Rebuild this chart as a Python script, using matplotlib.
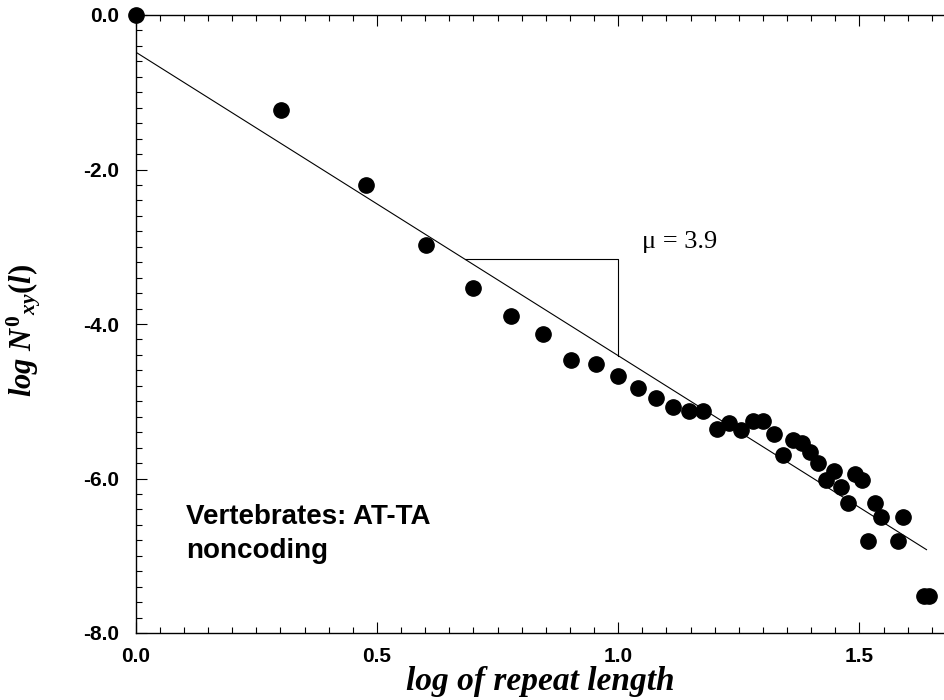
import numpy as np
import matplotlib
matplotlib.use("Agg")
import matplotlib.pyplot as plt
from matplotlib.ticker import MultipleLocator, FormatStrFormatter

# ---- data ----
repeat_length = [1, 2, 3, 4, 5, 6, 7, 8, 9, 10, 11, 12, 13, 14, 15, 16, 17, 18,
                 19, 20, 21, 22, 23, 24, 25, 26, 27, 28, 29, 30, 31, 32, 33, 34,
                 35, 38, 39, 43, 44]
log_N = [0.0, -1.23, -2.20, -2.98, -3.53, -3.90, -4.13, -4.46, -4.52, -4.67,
         -4.83, -4.96, -5.08, -5.13, -5.13, -5.36, -5.28, -5.37, -5.26, -5.26,
         -5.42, -5.70, -5.50, -5.54, -5.66, -5.80, -6.02, -5.90, -6.11, -6.32,
         -5.94, -6.02, -6.81, -6.32, -6.50, -6.81, -6.50, -7.52, -7.52]
fit_intercept = -0.48
fit_slope = -3.93
fit_x_range = [0.0, 1.639]
triangle_x = [0.682, 1.0]
mu_label = "\u03bc = 3.9"
annotation = "Vertebrates: AT-TA\nnoncoding"
xticks = [0.0, 0.5, 1.0, 1.5]
yticks = [0.0, -2.0, -4.0, -6.0, -8.0]

plt.rcParams['mathtext.fontset'] = 'custom'
plt.rcParams['mathtext.it'] = 'Liberation Serif:bold:italic'
plt.rcParams['mathtext.rm'] = 'Liberation Serif:bold'
plt.rcParams['mathtext.bf'] = 'Liberation Serif:bold'

fig = plt.figure(figsize=(9.45, 7.0), dpi=100)
ax = fig.add_axes([135.7 / 945, 1 - 633 / 700, 1 - 135.7 / 945, (633 - 15) / 700])

x = np.log10(repeat_length)
ax.plot(x, log_N, 'o', color='black', markersize=11, clip_on=False, zorder=3)

fx = np.array(fit_x_range)
ax.plot(fx, fit_intercept + fit_slope * fx, color='black', lw=0.8)

# slope triangle
tx0, tx1 = triangle_x
ty0 = fit_intercept + fit_slope * tx0
ty1 = fit_intercept + fit_slope * tx1
ax.plot([tx0, tx1, tx1], [ty0, ty0, ty1], color='black', lw=0.8)

ax.text(1.05, -2.94, mu_label, family='Liberation Serif', fontsize=19,
        ha='left', va='center')
ax.text(0.105, -6.72, annotation, family='Liberation Sans', fontweight='bold',
        fontsize=20, ha='left', va='center', linespacing=1.4)

ax.set_xlim(0, (945 - 135.7) / 482.5)
ax.set_ylim(-8.0, 0.0)
ax.set_xticks(xticks)
ax.set_yticks(yticks)
ax.xaxis.set_minor_locator(MultipleLocator(0.05))
ax.yaxis.set_minor_locator(MultipleLocator(0.2))
ax.xaxis.set_major_formatter(FormatStrFormatter('%.1f'))
ax.yaxis.set_major_formatter(FormatStrFormatter('%.1f'))
ax.tick_params(which='both', direction='in', top=True, right=False, width=0.8)
ax.tick_params(which='major', length=8)
ax.tick_params(which='minor', length=4)
ax.tick_params(axis='x', which='major', pad=10)
ax.tick_params(axis='y', which='major', pad=12)
for lab in ax.get_xticklabels() + ax.get_yticklabels():
    lab.set_family('Liberation Sans')
    lab.set_fontweight('bold')
    lab.set_fontsize(15)
ax.spines['right'].set_visible(False)
for s in ['left', 'bottom', 'top']:
    ax.spines[s].set_linewidth(1.0)

ax.set_xlabel("log of repeat length", family='Liberation Serif', fontweight='bold',
              style='italic', fontsize=24, labelpad=0)
ax.set_ylabel(r"$log\ N^{\mathit{0}}{}_{xy}(l)$", fontsize=22)
ax.yaxis.set_label_coords(-0.115, 0.49)

fig.savefig("out.png", dpi=100)
